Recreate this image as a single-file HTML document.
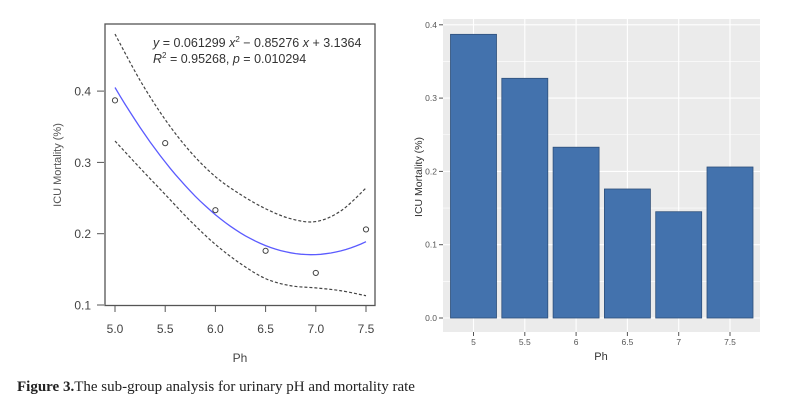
<!DOCTYPE html>
<html><head><meta charset="utf-8"><style>
body{margin:0;background:#fff;}
svg{display:block;font-family:"Liberation Sans",sans-serif;}
</style></head><body>
<svg width="789" height="404" viewBox="0 0 789 404">
<g id="left"></g>
<g id="right"></g>
<text x="17" y="391" font-family="Liberation Serif, serif" font-size="15" fill="#222"><tspan font-weight="bold">Figure 3.</tspan>The sub-group analysis for urinary pH and mortality rate</text>
</svg>
<script>
const phValues=[5.0,5.5,6.0,6.5,7.0,7.5];
const mortality=[0.387,0.327,0.233,0.176,0.145,0.206];
const ciX=[5.0,5.25,5.5,5.75,6.0,6.25,6.5,6.75,7.0,7.25,7.5];
const ciUpper=[0.48,0.415,0.36,0.315,0.28,0.255,0.235,0.221,0.217,0.232,0.264];
const ciLower=[0.33,0.292,0.255,0.218,0.185,0.158,0.137,0.127,0.124,0.12,0.113];
const leftYTicks=[0.1,0.2,0.3,0.4];
const leftXTicks=["5.0","5.5","6.0","6.5","7.0","7.5"];
const barCats=["5","5.5","6","6.5","7","7.5"];
const barYTicks=["0.0","0.1","0.2","0.3","0.4"];
const coef=[0.061299,-0.85276,3.1364];
const NS="http://www.w3.org/2000/svg";
function mk(t,a,p){const e=document.createElementNS(NS,t);for(const k in a)e.setAttribute(k,a[k]);p.appendChild(e);return e;}
const L=document.getElementById('left');
const lx=v=>115+(v-5)*100.4, ly=v=>305-(v-0.1)*713;
let e=mk('rect',{x:105,y:24,width:270,height:281.5,fill:'none',stroke:'#555','stroke-width':1.3},L);

leftYTicks.forEach(t=>{mk('line',{x1:97,x2:104,y1:ly(t),y2:ly(t),stroke:'#555'},L);
 e=mk('text',{x:91,y:ly(t)+4.5,'text-anchor':'end','font-size':12,fill:'#444'},L);e.textContent=t.toFixed(1);
 });
leftXTicks.forEach(t=>{const x=lx(parseFloat(t));mk('line',{x1:x,x2:x,y1:306,y2:312,stroke:'#555'},L);
 e=mk('text',{x:x,y:333,'text-anchor':'middle','font-size':12,fill:'#444'},L);e.textContent=t;
 });
e=mk('text',{x:240,y:362,'text-anchor':'middle','font-size':12,fill:'#444'},L);e.textContent='Ph';

e=mk('text',{x:0,y:0,transform:'translate(61,165) rotate(-90)','text-anchor':'middle','font-size':11,fill:'#555'},L);e.textContent='ICU Mortality (%)';

function pts(xs,ys){return xs.map((x,i)=>lx(x).toFixed(1)+','+ly(ys[i]).toFixed(1)).join(' ');}
function smooth(xs,ys){const P=xs.map((x,i)=>[lx(x),ly(ys[i])]);let d='M'+P[0][0]+','+P[0][1];
 for(let i=0;i<P.length-1;i++){const p0=P[i-1]||P[i],p1=P[i],p2=P[i+1],p3=P[i+2]||p2;
  d+=' C'+(p1[0]+(p2[0]-p0[0])/6)+','+(p1[1]+(p2[1]-p0[1])/6)+' '+(p2[0]-(p3[0]-p1[0])/6)+','+(p2[1]-(p3[1]-p1[1])/6)+' '+p2[0]+','+p2[1];}
 return d;}
e=mk('path',{d:smooth(ciX,ciUpper),fill:'none',stroke:'#444','stroke-width':1.2,'stroke-dasharray':'3,2'},L);

e=mk('path',{d:smooth(ciX,ciLower),fill:'none',stroke:'#444','stroke-width':1.2,'stroke-dasharray':'3,2'},L);

let fx=[],fy=[];for(let x=5;x<=7.5001;x+=0.05){fx.push(x);fy.push(coef[0]*x*x+coef[1]*x+coef[2]);}
e=mk('polyline',{points:pts(fx,fy),fill:'none',stroke:'#5b5bff','stroke-width':1.3},L);

phValues.forEach((p,i)=>{e=mk('circle',{cx:lx(p),cy:ly(mortality[i]),r:2.6,fill:'none',stroke:'#444','stroke-width':1},L);
 });
e=mk('text',{x:153,y:47,'font-size':12.5,fill:'#333'},L);
e.innerHTML='<tspan font-style="italic">y</tspan> = 0.061299 <tspan font-style="italic">x</tspan><tspan font-size="8" dy="-5">2</tspan><tspan dy="5"> − 0.85276 </tspan><tspan font-style="italic">x</tspan> + 3.1364';

e=mk('text',{x:153,y:63,'font-size':12.5,fill:'#333'},L);
e.innerHTML='<tspan font-style="italic">R</tspan><tspan font-size="8" dy="-5">2</tspan><tspan dy="5"> = 0.95268, </tspan><tspan font-style="italic">p</tspan> = 0.010294';

const R=document.getElementById('right');
const bx=i=>473.5+i*51.3, by=v=>318-v*733;
e=mk('rect',{x:443,y:19,width:317,height:313,fill:'#ebebeb'},R);

for(let k=0;k<9;k++){const v=k*0.05;mk('line',{x1:443,x2:760,y1:by(v),y2:by(v),stroke:'#fff','stroke-width':k%2?0.6:1.1},R);}
barCats.forEach((c,i)=>mk('line',{x1:bx(i),x2:bx(i),y1:19,y2:332,stroke:'#fff','stroke-width':1.1},R));
barYTicks.forEach(t=>{const y=by(parseFloat(t));mk('line',{x1:439,x2:443,y1:y,y2:y,stroke:'#555'},R);
 e=mk('text',{x:437,y:y+3,'text-anchor':'end','font-size':8.5,fill:'#555'},R);e.textContent=t;
 });
barCats.forEach((c,i)=>{mk('line',{x1:bx(i),x2:bx(i),y1:332,y2:336,stroke:'#555'},R);
 e=mk('text',{x:bx(i),y:345,'text-anchor':'middle','font-size':8.5,fill:'#555'},R);e.textContent=c;
 
 e=mk('rect',{x:bx(i)-23,y:by(mortality[i]),width:46,height:by(0)-by(mortality[i]),fill:'#4372ad',stroke:'#2e4f7a','stroke-width':0.8},R);
 });
e=mk('text',{x:601,y:360,'text-anchor':'middle','font-size':11,fill:'#333'},R);e.textContent='Ph';

e=mk('text',{x:0,y:0,transform:'translate(422,177) rotate(-90)','text-anchor':'middle','font-size':10.5,fill:'#333'},R);e.textContent='ICU Mortality (%)';

</script>
</body></html>
